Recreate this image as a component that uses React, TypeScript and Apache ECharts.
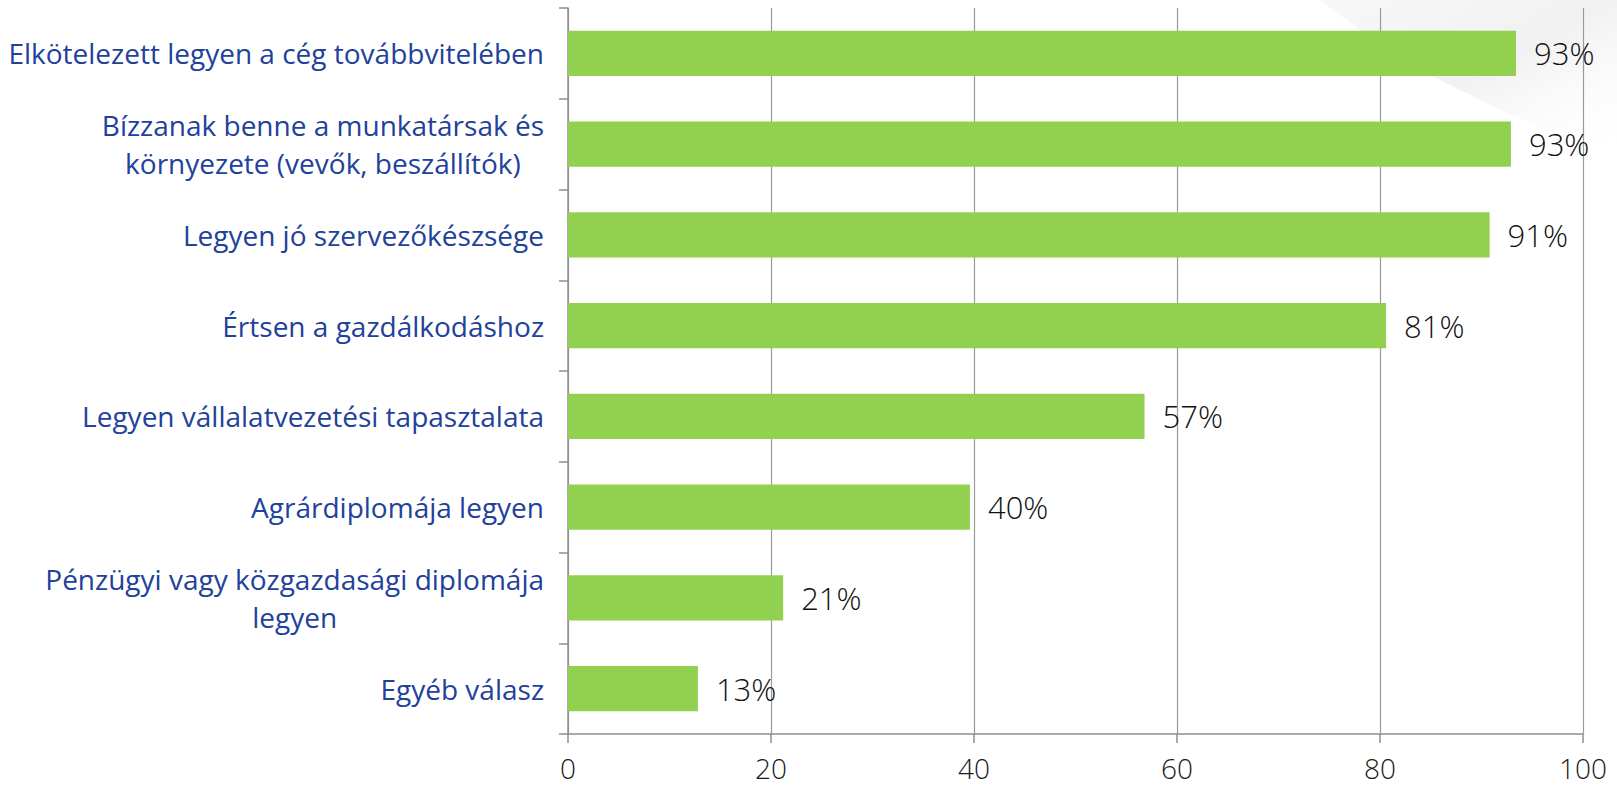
import React, { useEffect, useRef } from "react";
import * as echarts from "echarts";

const categories = [
  "Elkötelezett legyen a cég továbbvitelében",
  "Bízzanak benne a munkatársak és\nkörnyezete (vevők, beszállítók)",
  "Legyen jó szervezőkészsége",
  "Értsen a gazdálkodáshoz",
  "Legyen vállalatvezetési tapasztalata",
  "Agrárdiplomája legyen",
  "Pénzügyi vagy közgazdasági diplomája\nlegyen",
  "Egyéb válasz",
];
const values = [93.4, 92.9, 90.8, 80.6, 56.8, 39.6, 21.2, 12.8];
const xTicks = [0, 20, 40, 60, 80, 100];

export default function App() {
  const ref = useRef<HTMLDivElement>(null);
  useEffect(() => {
    document.body.style.margin = "0";
    const chart = echarts.init(ref.current!, null, { renderer: "svg" });
    chart.setOption({
      animation: false,
      backgroundColor: "#ffffff",
      graphic: [
        {
          type: "polygon",
          z: -10,
          silent: true,
          shape: {
            points: [
              [1320, 0],
              [1617, 0],
              [1617, 160],
              [1500, 110],
              [1400, 60],
            ],
          },
          style: {
            fill: new echarts.graphic.LinearGradient(0, 0, 1, 1, [
              { offset: 0, color: "rgba(236,236,236,0.4)" },
              { offset: 0.5, color: "rgba(232,232,232,0.6)" },
              { offset: 1, color: "rgba(255,255,255,0)" },
            ]),
          },
        },
      ],
      grid: { left: 568, right: 34, top: 8, bottom: 54, containLabel: false },
      xAxis: {
        type: "value",
        min: xTicks[0],
        max: xTicks[xTicks.length - 1],
        interval: 20,
        axisLine: { show: true, lineStyle: { color: "#8f8f8f", width: 1.5 } },
        axisTick: { show: true, length: 9, lineStyle: { color: "#8f8f8f", width: 1.5 } },
        splitLine: { show: true, lineStyle: { color: "#9a9a9a", width: 1.2 } },
        axisLabel: {
          margin: 20,
          fontFamily: "Open Sans",
          fontWeight: 300,
          fontSize: 28,
          color: "#1a1a1a",
        },
      },
      yAxis: {
        type: "category",
        data: categories,
        inverse: true,
        axisLine: { show: true, lineStyle: { color: "#8f8f8f", width: 1.5 } },
        axisTick: { show: true, length: 9, alignWithLabel: false, lineStyle: { color: "#8f8f8f", width: 1.5 } },
        axisLabel: {
          margin: 24,
          align: "right",
          formatter: (v: string) =>
            v.split("\n").map((l) => "{c|" + l + "}").join("\n"),
          rich: {
            c: {
              align: "center",
              fontFamily: "Open Sans",
              fontWeight: 500,
              fontSize: 28,
              lineHeight: 38,
              color: "#22419a",
            },
          },
        },
      },
      series: [
        {
          type: "bar",
          data: values,
          barWidth: "50%",
          itemStyle: { color: "#92d050" },
          label: {
            show: true,
            position: "right",
            distance: 18,
            formatter: (p: any) => Math.round(p.value) + "%",
            fontFamily: "Open Sans",
            fontWeight: 300,
            fontSize: 31,
            color: "#111111",
          },
        },
      ],
    });
    return () => chart.dispose();
  }, []);
  return <div ref={ref} style={{ width: 1617, height: 788 }} />;
}
